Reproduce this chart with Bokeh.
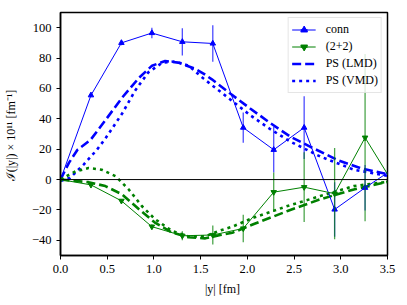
import math
from bokeh.plotting import figure
from bokeh.models import Range1d, FixedTicker, NumeralTickFormatter, Span, Legend, LegendItem
from bokeh.embed import file_html
from bokeh.resources import INLINE

# lattice data points
y_pts = [0.0, 0.326, 0.652, 0.978, 1.304, 1.630, 1.956, 2.282, 2.608, 2.934, 3.260, 3.586]
conn = [0.0, 55.5, 90.0, 96.5, 90.7, 89.6, 34.2, 19.6, 34.2, -19.7, -5.4, 8.0]
conn_err = [0.0, 1.0, 1.5, 3.5, 9.0, 12.0, 10.0, 15.0, 20.7, 18.0, 15.0, 15.0]
pair = [0.0, -3.5, -14.0, -31.0, -37.0, -36.5, -32.2, -8.3, -5.0, -9.3, 27.6, -5.0]
pair_err = [0.0, 0.5, 1.0, 1.5, 3.0, 6.3, 9.0, 13.0, 23.0, 30.0, 55.0, 40.0]

# PS model curves
lmd_conn_x = [0, 0.09, 0.18, 0.32, 0.48, 0.66, 0.84, 0.98, 1.12, 1.26, 1.44, 1.535, 1.62, 1.82, 2.03, 2.25, 2.46, 2.67, 2.96, 3.21, 3.5]
lmd_conn_y = [0, 11, 19.5, 26, 39, 54, 67, 75, 78, 77, 73, 69.6, 66, 56.5, 46.8, 37, 28.3, 21.7, 13, 7.5, 3.5]
vmd_conn_x = [0, 0.10, 0.25, 0.39, 0.48, 0.66, 0.80, 0.94, 1.09, 1.23, 1.37, 1.535, 1.82, 2.03, 2.25, 2.46, 2.78, 3.14, 3.5]
vmd_conn_y = [0, 1, 10, 19.6, 27, 43.5, 58.7, 70.6, 77, 77.8, 75, 66.3, 52.6, 42.4, 33, 25, 15.2, 6.5, 2.5]
lmd_pair_x = [0, 0.30, 0.48, 0.66, 0.84, 1.01, 1.19, 1.37, 1.55, 1.71, 1.84, 2.07, 2.43, 2.78, 3.14, 3.5]
lmd_pair_y = [0, -1.7, -4.3, -9.8, -19.6, -28.3, -34.8, -38, -38.7, -36.5, -35, -29.3, -20.7, -13, -6.5, -1.5]
vmd_pair_x = [0, 0.16, 0.30, 0.44, 0.59, 0.73, 0.87, 1.01, 1.19, 1.37, 1.55, 1.71, 1.84, 2.07, 2.43, 2.78, 3.14, 3.5]
vmd_pair_y = [0, 5.4, 7.6, 6.5, 2.2, -6.5, -17.4, -26, -33.7, -37.4, -37.4, -33.5, -31, -25, -17.4, -10.9, -4.3, -1.5]

x_ticks = [0.0, 0.5, 1.0, 1.5, 2.0, 2.5, 3.0, 3.5]
y_ticks = [-40, -20, 0, 20, 40, 60, 80, 100]

BLUE = "#0000ff"
GREEN = "#008000"
FONT = "Liberation Serif"

p = figure(width=400, height=298, output_backend="svg", toolbar_location=None,
           x_range=Range1d(0, 3.5), y_range=Range1d(-50, 110),
           min_border_left=60, min_border_right=13, min_border_top=12, min_border_bottom=42)
p.xgrid.visible = False
p.ygrid.visible = False
p.outline_line_color = "black"
p.outline_line_width = 1.5
p.background_fill_color = "white"
p.border_fill_color = "white"

for ax in (p.xaxis[0], p.yaxis[0]):
    ax.axis_line_color = "black"
    ax.axis_line_width = 1.5
    ax.major_tick_in = 0
    ax.major_tick_out = 4
    ax.minor_tick_line_color = None
    ax.major_label_text_font = FONT
    ax.major_label_text_font_size = "12.5px"
    ax.major_label_text_color = "black"
    ax.axis_label_text_font = FONT
    ax.axis_label_text_font_size = "12px"
    ax.axis_label_text_font_style = "normal"
    ax.axis_label_text_color = "black"

p.xaxis.ticker = FixedTicker(ticks=x_ticks)
p.xaxis.formatter = NumeralTickFormatter(format="0.0")
p.yaxis.ticker = FixedTicker(ticks=y_ticks)
p.xaxis.axis_label = "|y|  [fm]"
p.yaxis.axis_label = "ℐ(|y|) × 10¹¹  [fm⁻¹]"
p.xaxis.axis_label_standoff = 6
p.yaxis.axis_label_standoff = 11

p.add_layout(Span(location=0, dimension="width", line_color="black", line_width=1))

up_c = [v + e for v, e in zip(conn, conn_err)]
lo_c = [v - e for v, e in zip(conn, conn_err)]
up_p = [v + e for v, e in zip(pair, pair_err)]
lo_p = [v - e for v, e in zip(pair, pair_err)]

# model curves
r_lmd = p.line(lmd_conn_x, lmd_conn_y, line_color=BLUE, line_width=2.6, line_dash="9 4")
r_vmd = p.line(vmd_conn_x, vmd_conn_y, line_color=BLUE, line_width=2.6, line_dash="3 4")
p.line(lmd_pair_x, lmd_pair_y, line_color=GREEN, line_width=2.6, line_dash="9 4")
p.line(vmd_pair_x, vmd_pair_y, line_color=GREEN, line_width=2.6, line_dash="3 4")

# conn
p.segment(y_pts, lo_c, y_pts, up_c, line_color=BLUE, line_width=1.3, line_alpha=0.7)
r_cl = p.line(y_pts, conn, line_color=BLUE, line_width=1)
r_cm = p.scatter(y_pts, conn, marker="triangle", size=5.5, fill_color=BLUE, line_color=BLUE)
# (2+2)
p.segment(y_pts, lo_p, y_pts, up_p, line_color=GREEN, line_width=1.3, line_alpha=0.7)
r_pl = p.line(y_pts, pair, line_color=GREEN, line_width=1)
r_pm = p.scatter(y_pts, pair, marker="inverted_triangle", size=5.5, fill_color=GREEN, line_color=GREEN)

# vertical bars for the legend only
nan = float("nan")
r_cb = p.scatter([nan], [nan], marker="dash", angle=math.pi / 2, size=14, line_color=BLUE, line_width=1.3)
r_pb = p.scatter([nan], [nan], marker="dash", angle=math.pi / 2, size=14, line_color=GREEN, line_width=1.3)

legend = Legend(items=[
    LegendItem(label="conn", renderers=[r_cl, r_cb, r_cm]),
    LegendItem(label="(2+2)", renderers=[r_pl, r_pb, r_pm]),
    LegendItem(label="PS (LMD)", renderers=[r_lmd]),
    LegendItem(label="PS (VMD)", renderers=[r_vmd]),
], location="top_right")
legend.label_text_font = FONT
legend.label_text_font_size = "12px"
legend.label_text_color = "black"
legend.glyph_width = 24
legend.glyph_height = 17
legend.label_height = 17
legend.spacing = 0
legend.label_standoff = 10
legend.padding = 3
legend.margin = 5
legend.border_line_color = "#cccccc"
legend.border_line_width = 1
legend.background_fill_alpha = 0.8
p.add_layout(legend)

open("out.html", "w").write(file_html(p, INLINE))
